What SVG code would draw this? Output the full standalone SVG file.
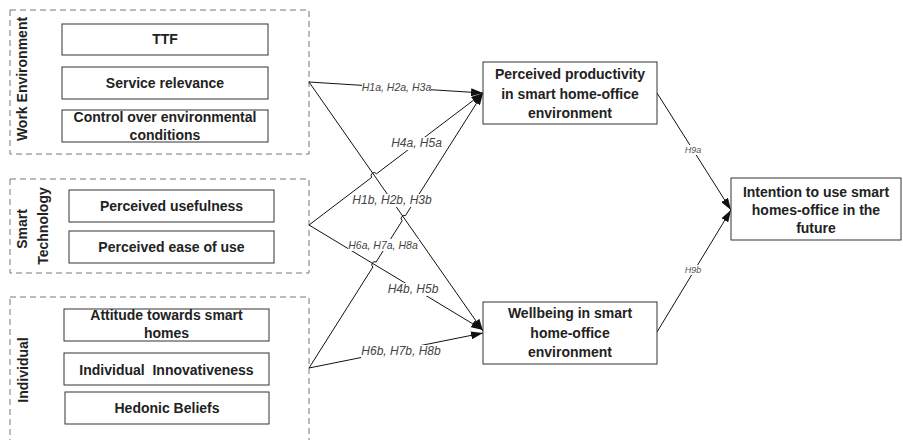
<svg xmlns="http://www.w3.org/2000/svg" width="903" height="440" viewBox="0 0 903 440">
<defs>
<marker id="arr" viewBox="0 0 12 8" markerWidth="12" markerHeight="8" refX="12" refY="4" orient="auto" markerUnits="userSpaceOnUse">
<path d="M0,0 L12,4 L0,8 z" fill="#111"/>
</marker>
<style>
.grp{fill:none;stroke:#777;stroke-width:1;stroke-dasharray:6,4}
.box{fill:#fff;stroke:#333;stroke-width:1}
.t{font-family:"Liberation Sans",Arial,sans-serif;font-weight:bold;font-size:14px;fill:#222;text-anchor:middle}
.gl{font-family:"Liberation Sans",Arial,sans-serif;font-weight:bold;font-size:14px;fill:#222;text-anchor:middle}
.c{fill:none;stroke:#111;stroke-width:1}
.ca{fill:none;stroke:#111;stroke-width:1;marker-end:url(#arr)}
.lb{font-family:"Liberation Sans",Arial,sans-serif;font-style:italic;font-size:12px;fill:#444;text-anchor:middle}
.lbs{font-family:"Liberation Sans",Arial,sans-serif;font-style:italic;font-size:9px;fill:#555;text-anchor:middle}
.bg{fill:#fff}
</style>
</defs>
<rect width="903" height="440" fill="#fff"/>

<g id="work-environment">
<rect class="grp" x="10" y="10" width="299" height="144"/>
<text class="gl" transform="translate(27,79) rotate(-90)">Work Environment</text>
</g>
<g id="ttf"><rect class="box" x="62" y="24" width="206" height="31"/><text class="t" x="165" y="44">TTF</text></g>
<g id="service-relevance"><rect class="box" x="62" y="67" width="206" height="32"/><text class="t" x="165" y="88">Service relevance</text></g>
<g id="control"><rect class="box" x="62" y="110" width="206" height="32"/><text class="t" x="165" y="122">Control over environmental</text><text class="t" x="165" y="140">conditions</text></g>

<g id="smart-technology">
<rect class="grp" x="10" y="179" width="299" height="94"/>
<text class="gl" transform="translate(27,229) rotate(-90)">Smart</text>
<text class="gl" transform="translate(48,226) rotate(-90)">Technology</text>
</g>
<g id="perceived-usefulness"><rect class="box" x="69" y="190" width="205" height="32"/><text class="t" x="171.5" y="211">Perceived usefulness</text></g>
<g id="perceived-ease"><rect class="box" x="69" y="231" width="205" height="32"/><text class="t" x="171.5" y="252">Perceived ease of use</text></g>

<g id="individual">
<rect class="grp" x="10" y="297" width="299" height="150"/>
<text class="gl" transform="translate(28,370) rotate(-90)">Individual</text>
</g>
<g id="attitude"><rect class="box" x="64" y="309" width="205" height="32"/><text class="t" x="166.5" y="320">Attitude towards smart</text><text class="t" x="166.5" y="338">homes</text></g>
<g id="innovativeness"><rect class="box" x="64" y="353" width="205" height="32"/><text class="t" x="166.5" y="375" xml:space="preserve">Individual  Innovativeness</text></g>
<g id="hedonic"><rect class="box" x="65" y="392" width="204" height="32"/><text class="t" x="167" y="413">Hedonic Beliefs</text></g>

<g id="connectors">
<path class="ca" d="M309,82 L483,93"/>
<path class="ca" d="M309,82 L483,331"/>
<path class="ca" d="M309,225 L371.7,177.4 A3,3 0 0 1 376.5,173.8 L483,93"/>
<path class="ca" d="M309,225 L483,330"/>
<path class="ca" d="M309,368 L372.9,267 A3,3 0 0 1 376.1,262 L402.2,220.7 A3,3 0 0 1 405.4,215.7 L483,93"/>
<path class="ca" d="M309,368 L483,333"/>
<path class="ca" d="M657,93 L731,210"/>
<path class="ca" d="M657,332 L731,210"/>
<g id="labels">
<rect class="bg" x="362" y="82" width="69" height="11"/><text class="lb" x="396.5" y="91" style="font-size:10.5px">H1a, H2a, H3a</text>
<rect class="bg" x="352" y="194" width="80" height="13"/><text class="lb" x="392" y="204">H1b, H2b, H3b</text>
<rect class="bg" x="391" y="137" width="51" height="13"/><text class="lb" x="416.5" y="147">H4a, H5a</text>
<rect class="bg" x="388" y="283" width="51" height="13"/><text class="lb" x="413" y="293">H4b, H5b</text>
<rect class="bg" x="348" y="239" width="71" height="12"/><text class="lb" x="383" y="249" style="font-size:10.5px">H6a, H7a, H8a</text>
<rect class="bg" x="361" y="345" width="80" height="13"/><text class="lb" x="401" y="355">H6b, H7b, H8b</text>
<rect class="bg" x="683" y="145" width="21" height="10"/><text class="lbs" x="693" y="153">H9a</text>
<rect class="bg" x="683" y="265" width="21" height="10"/><text class="lbs" x="693" y="273">H9b</text>
</g>
</g>

<g id="perceived-productivity"><rect class="box" x="483" y="62" width="174" height="62"/><text class="t" x="570" y="79">Perceived productivity</text><text class="t" x="570" y="98.5">in smart home-office</text><text class="t" x="570" y="118">environment</text></g>
<g id="wellbeing"><rect class="box" x="483" y="302" width="174" height="62"/><text class="t" x="570" y="318">Wellbeing in smart</text><text class="t" x="570" y="338">home-office</text><text class="t" x="570" y="357">environment</text></g>
<g id="intention"><rect class="box" x="731" y="178" width="170" height="62"/><text class="t" x="816" y="197">Intention to use smart</text><text class="t" x="816" y="215">homes-office in the</text><text class="t" x="816" y="233">future</text></g>
</svg>
